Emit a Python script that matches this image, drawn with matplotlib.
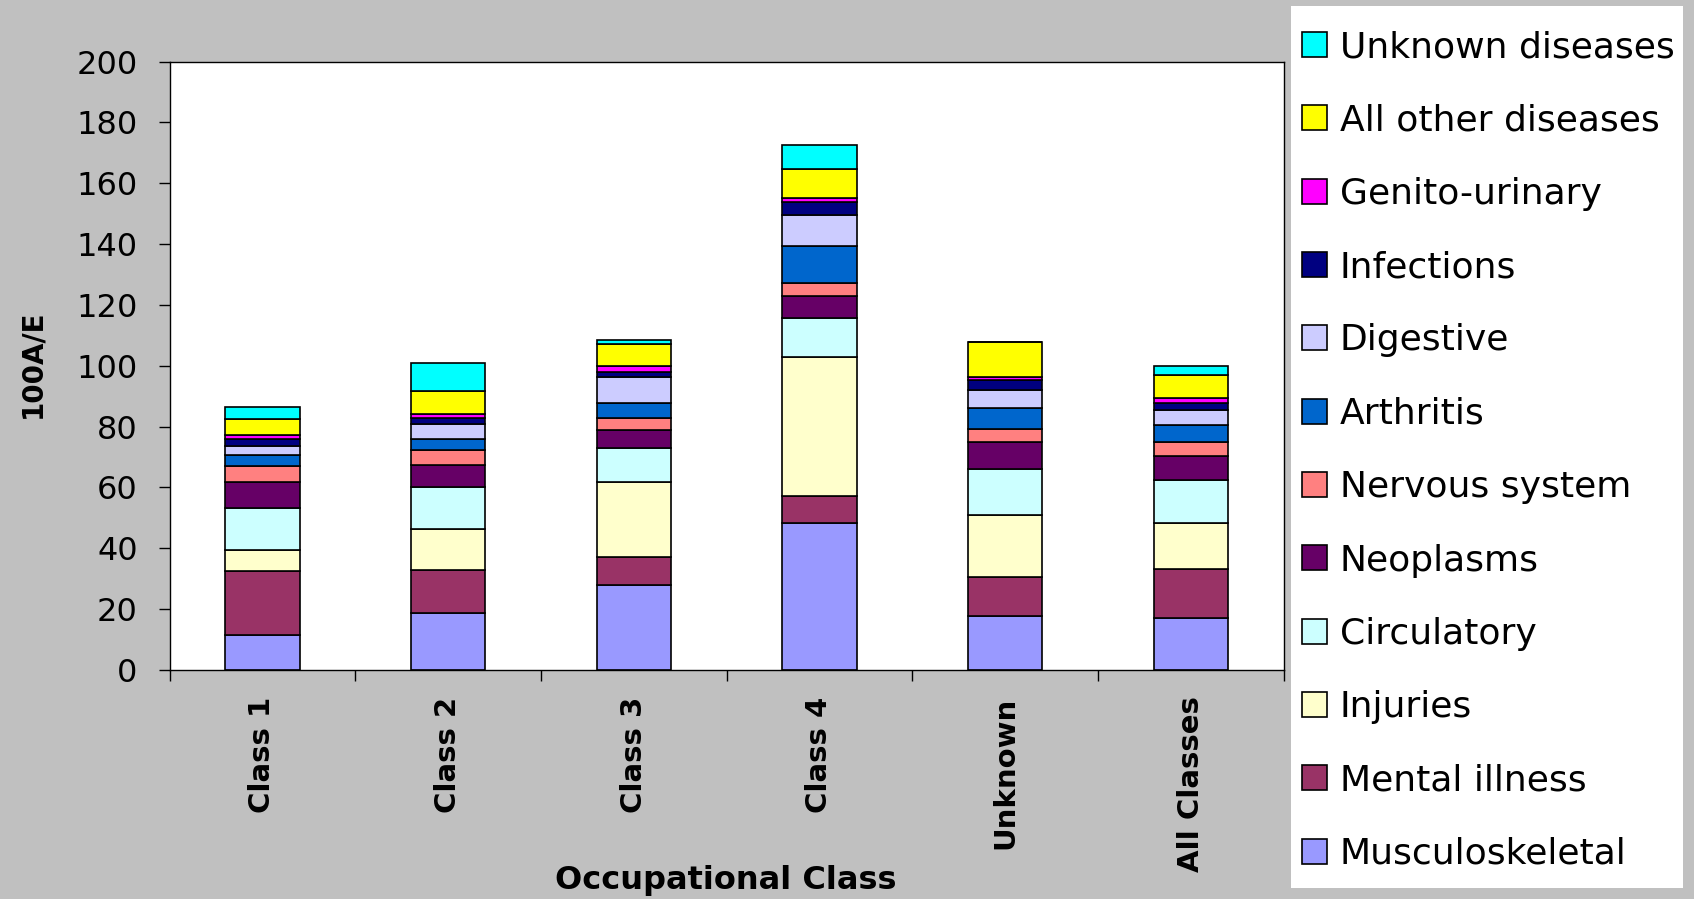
import numpy as np
import matplotlib
matplotlib.use('Agg')
import matplotlib.pyplot as plt
from matplotlib.patches import Rectangle

# categories on x axis
classes = ['Class 1', 'Class 2', 'Class 3', 'Class 4', 'Unknown', 'All Classes']

# segment values (100A/E), bottom to top
musculoskeletal = [11.5, 18.6, 28.0, 48.4, 17.8, 17.0]
mental_illness = [21.1, 14.3, 9.1, 8.9, 12.7, 16.3]
injuries = [6.8, 13.4, 24.7, 45.6, 20.3, 15.1]
circulatory = [13.8, 13.8, 11.2, 12.9, 15.4, 14.1]
neoplasms = [8.5, 7.3, 5.8, 7.0, 8.6, 7.8]
nervous_system = [5.3, 5.0, 4.0, 4.4, 4.4, 4.7]
arthritis = [3.6, 3.5, 5.0, 12.3, 7.0, 5.5]
digestive = [3.0, 4.9, 8.5, 10.1, 6.0, 4.9]
infections = [2.5, 2.1, 1.6, 4.2, 3.0, 2.4]
genito_urinary = [1.1, 1.2, 2.1, 1.4, 1.2, 1.6]
all_other = [5.3, 7.7, 7.3, 9.5, 11.4, 7.7]
unknown_diseases = [4.1, 9.1, 1.2, 7.8, 0.0, 2.9]

series = [
    ('Musculoskeletal', musculoskeletal, '#9999FF'),
    ('Mental illness', mental_illness, '#993366'),
    ('Injuries', injuries, '#FFFFCC'),
    ('Circulatory', circulatory, '#CCFFFF'),
    ('Neoplasms', neoplasms, '#660066'),
    ('Nervous system', nervous_system, '#FF8080'),
    ('Arthritis', arthritis, '#0066CC'),
    ('Digestive', digestive, '#CCCCFF'),
    ('Infections', infections, '#000080'),
    ('Genito-urinary', genito_urinary, '#FF00FF'),
    ('All other diseases', all_other, '#FFFF00'),
    ('Unknown diseases', unknown_diseases, '#00FFFF'),
]

W, H = 1694, 899
fig = plt.figure(figsize=(W / 100, H / 100), dpi=100, facecolor='#C0C0C0')
ax = fig.add_axes([169.6 / W, 1 - 670 / H, (1283.5 - 169.6) / W, (670 - 61.6) / H])
ax.set_facecolor('white')

x = np.arange(len(classes))
bottom = np.zeros(len(classes))
handles = []
for name, vals, color in series:
    vals = np.array(vals)
    b = ax.bar(x, vals, width=0.4, bottom=bottom, color=color,
               edgecolor='black', linewidth=1.2, label=name)
    handles.append(b)
    bottom += vals

ax.set_xlim(-0.5, len(classes) - 0.5)
ax.set_ylim(0, 200)
ax.set_yticks(np.arange(0, 201, 20))
ax.tick_params(axis='y', direction='out', length=8, width=1, pad=15, labelsize=23)

ax.set_xticks(x)
ax.set_xticklabels(classes, rotation=90, fontsize=21, fontweight='bold')
ax.set_xticks(np.arange(-0.5, len(classes), 1), minor=True)
ax.tick_params(axis='x', which='major', length=0, pad=19)
ax.tick_params(axis='x', which='minor', direction='out', length=8, width=1)

for s in ax.spines.values():
    s.set_color('black')
    s.set_linewidth(1)

fig.text(32 / W, 1 - 364 / H, '100A/E', rotation=90, ha='center', va='center',
         fontsize=20, fontweight='bold')
fig.text(726 / W, 1 - 880 / H, 'Occupational Class', ha='center', va='center',
         fontsize=23, fontweight='bold')

# legend box
fig.patches.append(Rectangle((1291 / W, 1 - 888 / H), (1683 - 1291) / W, (888 - 6) / H,
                             transform=fig.transFigure, facecolor='white',
                             edgecolor='none', zorder=0))
leg = fig.legend(handles[::-1], [s[0] for s in series][::-1],
                 loc='upper left', bbox_to_anchor=(1302 / W, 1 - 30 / H),
                 frameon=False, fontsize=26, labelspacing=1.09,
                 handlelength=0.69, handleheight=0.69, handletextpad=0.36,
                 borderaxespad=0, borderpad=0)

fig.savefig('out.png', dpi=100, facecolor=fig.get_facecolor())
